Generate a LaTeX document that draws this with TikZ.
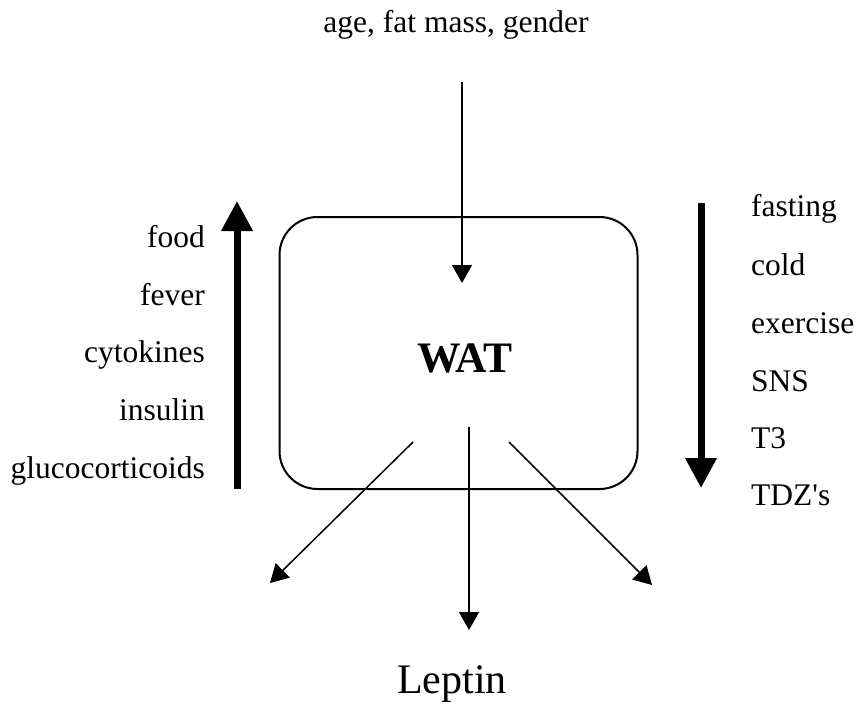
\documentclass[tikz,border=0pt]{standalone}
\usepackage{fontspec}
\setmainfont{Liberation Serif}
\usetikzlibrary{arrows.meta}
\tikzset{
  lbl/.style={inner sep=0pt, font=\fontsize{31.5}{36}\selectfont},
  thin arrow/.style={line width=1.5pt, -{Triangle[length=18pt,width=20pt]}},
  thick arrow/.style={line width=7pt, -{Triangle[length=30pt,width=30pt]}},
  watbox/.style={draw, line width=2pt, rounded corners=38pt, minimum width=358pt, minimum height=272pt, inner sep=0pt}
}
\begin{document}
\begin{tikzpicture}[x=1pt,y=-1pt]
\useasboundingbox (0,0) rectangle (859,704);
% box
\node[watbox] (box) at (458.5,353) {};
\node[inner sep=0pt, font=\fontsize{43.5}{48}\selectfont\bfseries, anchor=base] (wat) at (465,372) {WAT};
% top input
\node[lbl, anchor=base] (age) at (456,32) {age, fat mass, gender};
\coordinate (topstart) at (462,82);
\coordinate (topend) at (462,283);
\draw[thin arrow] (topstart) -- (topend);
% left labels
\node[lbl, anchor=base east] (food) at (205,247) {food};
\node[lbl, anchor=base east] (fever) at (205,305) {fever};
\node[lbl, anchor=base east] (cyto) at (205,362) {cytokines};
\node[lbl, anchor=base east] (ins) at (205,420) {insulin};
\node[lbl, anchor=base east] (gluco) at (205,478) {glucocorticoids};
% right labels
\node[lbl, anchor=base west] (fast) at (751,216) {fasting};
\node[lbl, anchor=base west] (cold) at (751,275) {cold};
\node[lbl, anchor=base west] (exer) at (751,333) {exercise};
\node[lbl, anchor=base west] (sns) at (751,391) {SNS};
\node[lbl, anchor=base west] (t3) at (751,448) {T3};
\node[lbl, anchor=base west] (tdz) at (751,505) {TDZ\textquotesingle s};
% thick arrows
\coordinate (upstart) at (237,489);
\coordinate (upend) at (237,201);
\draw[thick arrow] (upstart) -- (upend);
\coordinate (downstart) at (701,203);
\coordinate (downend) at (701,488);
\draw[thick arrow] (downstart) -- (downend);
% output arrows
\node[inner sep=0pt, font=\fontsize{42}{48}\selectfont, anchor=base] (leptin) at (452,693) {Leptin};
\coordinate (ls) at (413,442);
\coordinate (le) at (270,583);
\coordinate (cs) at (469,427);
\coordinate (ce) at (469,630);
\coordinate (rs) at (509,442);
\coordinate (re) at (652,585);
\draw[thin arrow] (ls) -- (le);
\draw[thin arrow] (cs) -- (ce);
\draw[thin arrow] (rs) -- (re);
\end{tikzpicture}
\end{document}
